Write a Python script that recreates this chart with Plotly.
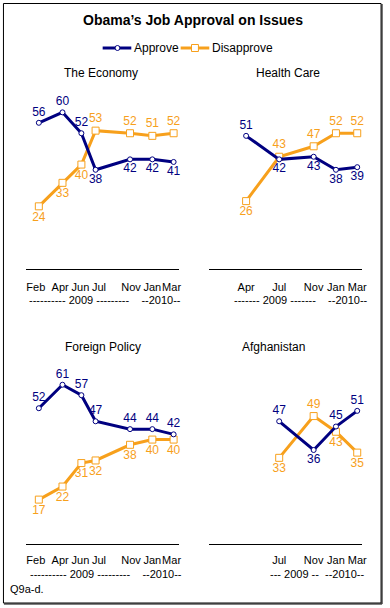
import plotly.graph_objects as go

# ---------------- data ----------------
survey_dates_full = ["2009-02-06", "2009-04-17", "2009-06-12", "2009-07-24",
                     "2009-11-03", "2010-01-08", "2010-03-12"]
month_labels_full = ["Feb", "Apr", "Jun", "Jul", "Nov", "Jan", "Mar"]
# where the month labels sit under the full panels (hand-spaced as in the original)
label_dates_full = ["2009-01-28", "2009-04-10", "2009-06-09", "2009-08-03",
                    "2009-11-06", "2010-01-08", "2010-03-06"]

survey_dates_health = ["2009-04-17", "2009-07-24", "2009-11-03", "2010-01-08", "2010-03-12"]
month_labels_health = ["Apr", "Jul", "Nov", "Jan", "Mar"]

survey_dates_afgh = ["2009-07-24", "2009-11-03", "2010-01-08", "2010-03-12"]
month_labels_afgh = ["Jul", "Nov", "Jan", "Mar"]

economy_approve = [56, 60, 52, 38, 42, 42, 41]
economy_disapprove = [24, 33, 40, 53, 52, 51, 52]

health_approve = [51, 42, 43, 38, 39]
health_disapprove = [26, 43, 47, 52, 52]

foreign_approve = [52, 61, 57, 47, 44, 44, 42]
foreign_disapprove = [17, 22, 31, 32, 38, 40, 40]

afgh_approve = [47, 36, 45, 51]
afgh_disapprove = [33, 49, 43, 35]

panel_titles = ["The Economy", "Health Care", "Foreign Policy", "Afghanistan"]
year_rows = ["---------- 2009 ---------    --2010--",
             "------- 2009 -------    --2010--",
             "---------- 2009 ---------    --2010--",
             "--- 2009 --  --2010--"]

# ---------------- styling ----------------
NAVY = "#000080"
ORANGE = "#F7A01C"
FONT = "Liberation Sans, Arial, sans-serif"
W, H = 390, 608


def px(y):
    return 1 - y / H


def pxx(x):
    return x / W


X_RANGE = ["2008-12-29", "2010-03-27"]
Y_RANGE = [0, 65]

panels = [
    dict(dates=survey_dates_full, labels=month_labels_full, ticks=label_dates_full,
         app=economy_approve, dis=economy_disapprove,
         app_pos=["top center"] * 3 + ["bottom center"] * 4,
         dis_pos=["bottom center"] * 3 + ["top center"] * 4,
         xdom=[pxx(26), pxx(181)], ydom=[px(269), px(99.3)], standoff=8,
         title_xy=(102.5, 73), year_xy=(106.5, 300)),
    dict(dates=survey_dates_health, labels=month_labels_health, ticks=survey_dates_health,
         app=health_approve, dis=health_disapprove,
         app_pos=["top center"] + ["bottom center"] * 4,
         dis_pos=["bottom center"] + ["top center"] * 4,
         xdom=[pxx(212), pxx(367)], ydom=[px(269), px(99.3)], standoff=8,
         title_xy=(292, 73), year_xy=(305, 300)),
    dict(dates=survey_dates_full, labels=month_labels_full, ticks=label_dates_full,
         app=foreign_approve, dis=foreign_disapprove,
         app_pos=["top center"] * 7,
         dis_pos=["bottom center"] * 7,
         xdom=[pxx(26), pxx(181)], ydom=[px(544), px(374.3)], standoff=6,
         title_xy=(104, 347), year_xy=(107.5, 574)),
    dict(dates=survey_dates_afgh, labels=month_labels_afgh, ticks=survey_dates_afgh,
         app=afgh_approve, dis=afgh_disapprove,
         app_pos=["top center", "bottom center", "top center", "top center"],
         dis_pos=["bottom center", "top center", "bottom center", "bottom center"],
         xdom=[pxx(212), pxx(367)], ydom=[px(544), px(374.3)], standoff=6,
         title_xy=(277, 347), year_xy=(321, 574)),
]

fig = go.Figure()
annotations = []

for i, p in enumerate(panels):
    n = "" if i == 0 else str(i + 1)
    xa, ya = "x" + n, "y" + n
    fig.add_trace(go.Scatter(
        x=p["dates"], y=p["dis"], xaxis=xa, yaxis=ya,
        mode="lines+markers+text", name="Disapprove", showlegend=False,
        line=dict(color=ORANGE, width=3),
        marker=dict(symbol="square", size=7, color="white",
                    line=dict(color=ORANGE, width=1)),
        text=[str(v) for v in p["dis"]], textposition=p["dis_pos"],
        textfont=dict(family=FONT, size=12, color=ORANGE),
        cliponaxis=False, hoverinfo="skip"))
    fig.add_trace(go.Scatter(
        x=p["dates"], y=p["app"], xaxis=xa, yaxis=ya,
        mode="lines+markers+text", name="Approve", showlegend=False,
        line=dict(color=NAVY, width=3),
        marker=dict(symbol="circle", size=5, color="white",
                    line=dict(color=NAVY, width=1)),
        text=[str(v) for v in p["app"]], textposition=p["app_pos"],
        textfont=dict(family=FONT, size=12, color=NAVY),
        cliponaxis=False, hoverinfo="skip"))

    fig.layout["xaxis" + n] = dict(
        domain=p["xdom"], anchor=ya, type="date", range=X_RANGE,
        tickmode="array", tickvals=p["ticks"], ticktext=p["labels"],
        tickangle=0,
        showgrid=False, zeroline=False, showline=True, linecolor="black",
        linewidth=1, ticks="", ticklabelstandoff=p["standoff"],
        tickfont=dict(family=FONT, size=11, color="black"), fixedrange=True)
    fig.layout["yaxis" + n] = dict(
        domain=p["ydom"], anchor=xa, range=Y_RANGE, visible=False,
        showgrid=False, zeroline=False, fixedrange=True)

    tx, ty = p["title_xy"]
    annotations.append(dict(
        text=panel_titles[i], x=pxx(tx), y=px(ty), xref="paper", yref="paper",
        xanchor="center", yanchor="middle", showarrow=False,
        font=dict(family=FONT, size=12, color="black")))
    yx, yy = p["year_xy"]
    annotations.append(dict(
        text=year_rows[i], x=pxx(yx), y=px(yy), xref="paper", yref="paper",
        xanchor="center", yanchor="middle", showarrow=False,
        font=dict(family=FONT, size=11, color="black")))

# title, legend texts, note
annotations.append(dict(
    text="<b>Obama’s Job Approval on Issues</b>", x=pxx(195.5), y=px(20),
    xref="paper", yref="paper", xanchor="center", yanchor="middle",
    showarrow=False, font=dict(family=FONT, size=14, color="black")))
annotations.append(dict(
    text="Approve", x=pxx(134), y=px(48), xref="paper", yref="paper",
    xanchor="left", yanchor="middle", showarrow=False,
    font=dict(family=FONT, size=12, color="black")))
annotations.append(dict(
    text="Disapprove", x=pxx(213), y=px(48), xref="paper", yref="paper",
    xanchor="left", yanchor="middle", showarrow=False,
    font=dict(family=FONT, size=12, color="black")))
annotations.append(dict(
    text="Q9a-d.", x=pxx(8), y=px(589), xref="paper", yref="paper",
    xanchor="left", yanchor="middle", showarrow=False,
    font=dict(family=FONT, size=11, color="black")))

shapes = [
    # frame
    dict(type="rect", xref="paper", yref="paper", x0=pxx(3.5), x1=pxx(386),
         y0=px(3.5), y1=px(603), line=dict(color="black", width=1)),
    dict(type="line", xref="paper", yref="paper", x0=pxx(387), x1=pxx(387),
         y0=px(4), y1=px(604), line=dict(color="black", width=1)),
    dict(type="line", xref="paper", yref="paper", x0=pxx(4), x1=pxx(387),
         y0=px(604), y1=px(604), line=dict(color="black", width=1)),
    # legend samples
    dict(type="line", xref="paper", yref="paper", x0=pxx(104), x1=pxx(133),
         y0=px(48), y1=px(48), line=dict(color=NAVY, width=3)),
    dict(type="circle", xref="paper", yref="paper", x0=pxx(116.5), x1=pxx(121.5),
         y0=px(45.5), y1=px(50.5), fillcolor="white", line=dict(color=NAVY, width=1)),
    dict(type="line", xref="paper", yref="paper", x0=pxx(183), x1=pxx(212),
         y0=px(48), y1=px(48), line=dict(color=ORANGE, width=3)),
    dict(type="rect", xref="paper", yref="paper", x0=pxx(194), x1=pxx(201),
         y0=px(44.5), y1=px(51.5), fillcolor="white", line=dict(color=ORANGE, width=1)),
]

fig.update_layout(
    width=W, height=H, margin=dict(l=0, r=0, t=0, b=0),
    paper_bgcolor="white", plot_bgcolor="white",
    font=dict(family=FONT, size=12, color="black"),
    showlegend=False,
    annotations=annotations, shapes=shapes,
)

fig.write_html("out.html", config={"displayModeBar": False, "staticPlot": True},
               post_script="document.body.style.margin='0';"
                           "document.body.style.overflow='hidden';")
